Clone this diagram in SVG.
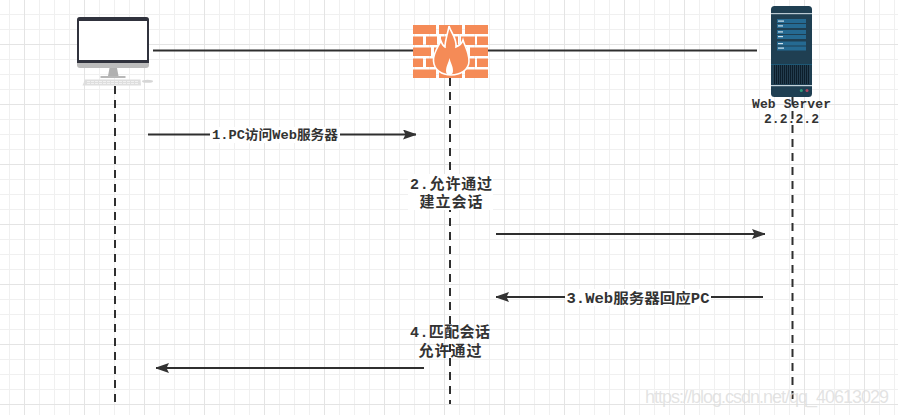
<svg xmlns="http://www.w3.org/2000/svg" width="898" height="415" viewBox="0 0 898 415">
<defs>
<pattern id="minor" width="15" height="15" patternUnits="userSpaceOnUse" x="9" y="14"><path d="M0.5 0V15M0 0.5H15" fill="none" stroke="#f0f0f0" stroke-width="1"/></pattern>
<pattern id="major" width="60" height="60" patternUnits="userSpaceOnUse" x="24" y="44"><path d="M0.5 0V60M0 0.5H60" fill="none" stroke="#e4e4e4" stroke-width="1"/></pattern>
<marker id="arrow" markerUnits="userSpaceOnUse" markerWidth="14" markerHeight="10" refX="13" refY="5" orient="auto"><path d="M0 0L13 4.500V5.500L0 10L2.500 5Z" fill="#333"/></marker>
</defs>
<style>
.wire{fill:none;stroke:#2f2f2f;stroke-width:2}
.flow{fill:none;stroke:#2f2f2f;stroke-width:2;marker-end:url(#arrow)}
.life{fill:none;stroke:#2f2f2f;stroke-width:2;stroke-dasharray:8 6}
.t{font-family:"Liberation Mono","Noto Sans CJK SC",monospace;font-size:13px;font-weight:700;fill:#333;text-anchor:middle}
.w{font-size:15px}
.b{fill:#f58b57}
</style>
<rect width="898" height="415" fill="#fff"/>
<rect width="898" height="415" fill="url(#minor)"/>
<rect width="898" height="415" fill="url(#major)"/>
<g id="connectors">
<path class="wire" d="M153 50.500H413M488 50.500H757"/>
<path class="life" d="M115 86V404"/>
<path class="life" d="M450 78V404"/>
<path class="life" d="M792.500 97V404"/>
<path class="flow" d="M148 134.500H416"/>
<path class="flow" d="M496 234H765"/>
<path class="flow" d="M763 297H496"/>
<path class="flow" d="M424 368H156"/>
</g>
<g id="pc">
<rect x="77" y="17" width="72" height="51" rx="3" fill="#bcbcbc"/>
<path d="M77 63V20a3 3 0 0 1 3-3H146a3 3 0 0 1 3 3V63Z" fill="#30323d"/>
<rect x="79" y="21" width="68" height="39" fill="#fff"/>
<path d="M109.500 68H117L118.500 76H108Z" fill="#b0b0b0"/>
<rect x="100.500" y="76" width="25" height="2" fill="#b8b8b8"/>
<path d="M85 79.500H140.500L141 85.500H82.500Z" fill="#dedede"/>
<path d="M87 81.500H138M87 83.500H138" stroke="#f6f6f6" stroke-width="0.800" stroke-dasharray="3 1"/>
<ellipse cx="147.500" cy="81.300" rx="5.500" ry="1.500" fill="#d6d6d6"/>
</g>
<g id="firewall">
<path class="b" d="M413 25H436V34H413ZM439 25H462V34H439ZM465 25H488V34H465ZM413 36.500H423V45H413ZM426 36.500H437V45H426ZM441 36.500H458V45H441ZM461 36.500H475V45H461ZM477 36.500H488V45H477ZM413 47.500H431V56H413ZM434 47.500H467V56H434ZM470 47.500H488V56H470ZM413 58.500H423V67H413ZM426 58.500H437V67H426ZM461 58.500H475V67H461ZM477 58.500H488V67H477ZM413 69.500H436V78H413ZM439 69.500H462V78H439ZM465 69.500H488V78H465Z"/>
<path d="M449 26C451 33 457 38 456 47C459 46 462 43 463 40C465 47 469 52 469 61C469 70 460 75 451 75C442 75 434 70 433.500 61C433 53 438 47 441 41C442 44 443 46 445 47C445 40 448 33 449 26Z" fill="#f58b57" stroke="#fff" stroke-width="1.600"/>
<path d="M449.500 58C450.500 63 453 66 453 71C453 73.500 451.500 75 449.500 75C447.500 75 446 73.500 446 71C446 66 448.500 63 449.500 58Z" fill="#fff"/>
</g>
<g id="server">
<rect x="771" y="6" width="41" height="91" rx="3.500" fill="#1f3f52"/>
<rect x="771" y="13" width="41" height="1.200" fill="#b9c9d2"/>
<g fill="#256a92"><rect x="777" y="19" width="29" height="4"/><rect x="777" y="24" width="29" height="4"/><rect x="777" y="30" width="29" height="4"/><rect x="777" y="35" width="29" height="4"/><rect x="777" y="41.500" width="29" height="4"/><rect x="777" y="46.500" width="29" height="4"/></g>
<g fill="#cfe3ee"><rect x="778" y="20.500" width="6" height="1.200"/><rect x="778" y="25.300" width="5" height="1.200"/><rect x="778" y="31.300" width="5" height="1.200"/><rect x="778" y="36" width="5" height="1.200"/><rect x="778" y="43" width="5" height="1.200"/><rect x="778" y="47.500" width="6" height="1.200"/></g>
<rect x="771" y="64" width="41" height="0.800" fill="#1d6080"/>
<rect x="773" y="65" width="37" height="19" fill="#2a4658"/>
<path d="M774.500 65V84M776.500 65V84M778.500 65V84M780.500 65V84M782.500 65V84M784.500 65V84M786.500 65V84M788.500 65V84M790.500 65V84M792.500 65V84M794.500 65V84M796.500 65V84M798.500 65V84M800.500 65V84M802.500 65V84M804.500 65V84M806.500 65V84M808.500 65V84" stroke="#0c1e2b" stroke-width="1.200"/>
<rect x="771" y="85" width="41" height="1.200" fill="#c5d3da"/>
<circle cx="801.300" cy="90.500" r="1.500" fill="#2f9a78"/>
<circle cx="807" cy="90.500" r="1.500" fill="#b04860"/>
<text class="t" x="791.500" y="108" textLength="79">Web Server</text>
<text class="t" x="791.500" y="123" textLength="55">2.2.2.2</text>
</g>
<g id="label1"><rect x="210" y="127" width="130" height="16" fill="#fff"/><text class="t" x="275" y="139" textLength="126" lengthAdjust="spacingAndGlyphs">1.PC访问Web服务器</text></g>
<g id="label2"><rect x="408" y="174" width="85" height="36" fill="#fff"/><text class="t w" x="451" y="188.500" textLength="82">2.允许通过</text><text class="t w" x="451" y="206.500" textLength="63">建立会话</text></g>
<g id="label3"><rect x="565" y="289" width="146" height="17" fill="#fff"/><text class="t" style="font-size:14px" x="638" y="303" textLength="143" lengthAdjust="spacingAndGlyphs">3.Web服务器回应PC</text></g>
<g id="label4"><text class="t w" x="450" y="336.500" textLength="80">4.匹配会话</text><text class="t w" x="450" y="355.500" textLength="63">允许通过</text></g>
<text id="watermark" x="645" y="403" font-family="'Liberation Sans',Arial,sans-serif" font-size="18" fill="#dcdcdc" fill-opacity="0.800" textLength="244">https://blog.csdn.net/qq_40613029</text>
</svg>
